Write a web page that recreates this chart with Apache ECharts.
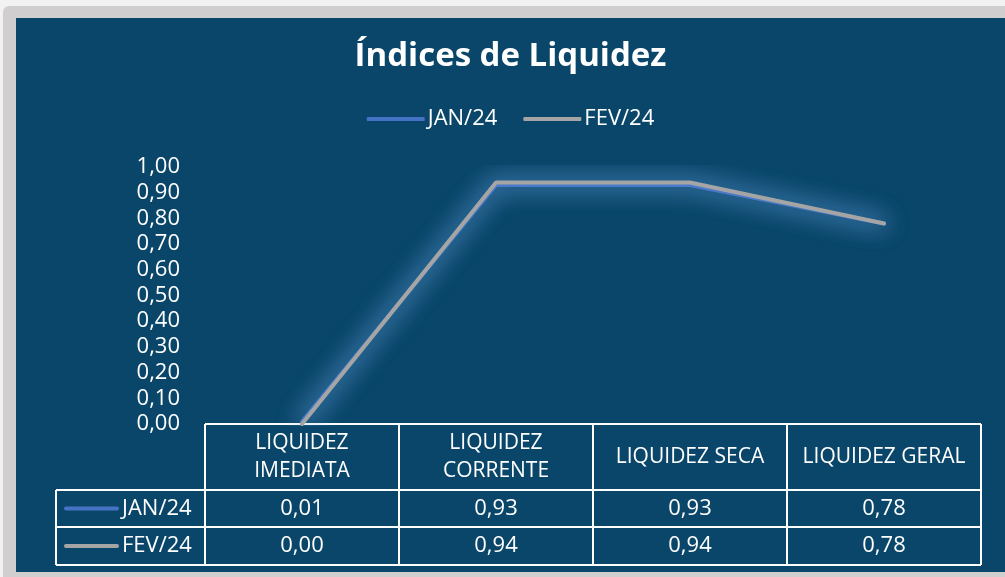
<!DOCTYPE html>
<html>
<head>
<meta charset="utf-8">
<script src="https://cdn.jsdelivr.net/npm/echarts@6/dist/echarts.min.js"></script>
<style>
  html, body { margin: 0; padding: 0; background: #f2f2f2; }
  .frame { position: absolute; left: 3px; top: 6px; width: 1010px; height: 580px; background: #d0cece; border-radius: 6px; }
  #chart { position: absolute; left: 16px; top: 18px; width: 989px; height: 554px; }
</style>
</head>
<body>
<div class="frame"></div>
<div id="chart"></div>
<script>
// dados do gráfico
const categories = ['LIQUIDEZ\nIMEDIATA', 'LIQUIDEZ\nCORRENTE', 'LIQUIDEZ SECA', 'LIQUIDEZ GERAL'];
const seriesNames = ['JAN/24', 'FEV/24'];
const jan24 = [0.01, 0.93, 0.93, 0.78];
const fev24 = [0.00, 0.94, 0.94, 0.78];
const yTicks = [0, 0.1, 0.2, 0.3, 0.4, 0.5, 0.6, 0.7, 0.8, 0.9, 1.0];

const FONT = '"Open Sans", sans-serif';
const BG = '#0a4669';
const COLORS = ['#4472c4', '#a5a5a5'];
const fmt = v => v.toFixed(2).replace('.', ',');

const chart = echarts.init(document.getElementById('chart'));

const GRID = { left: 189, right: 24, top: 149, bottom: 148 };

const option = {
  backgroundColor: BG,
  animation: false,
  title: {
    text: 'Índices de Liquidez',
    left: 'center',
    top: 17,
    textStyle: { color: '#fff', fontSize: 33, fontWeight: 'bold', fontFamily: FONT }
  },
  legend: {
    top: 85,
    left: 'center',
    itemWidth: 58,
    itemHeight: 4,
    itemGap: 26,
    icon: 'roundRect',
    textStyle: { color: '#fff', fontSize: 22, fontFamily: FONT, padding: [0, 0, 0, -2] },
    data: seriesNames
  },
  grid: GRID,
  xAxis: {
    type: 'category',
    data: categories,
    boundaryGap: true,
    axisLine: { show: false },
    axisTick: { show: false },
    axisLabel: {
      color: '#fff',
      fontSize: 21,
      fontFamily: FONT,
      lineHeight: 28,
      margin: 33,
      verticalAlign: 'middle',
      align: 'center',
      interval: 0
    }
  },
  yAxis: {
    type: 'value',
    min: yTicks[0],
    max: yTicks[yTicks.length - 1],
    interval: 0.1,
    axisLine: { show: false },
    axisTick: { show: false },
    splitLine: { show: false },
    axisLabel: {
      color: '#fff',
      fontSize: 22,
      fontFamily: FONT,
      margin: 25,
      formatter: v => fmt(v)
    }
  },
  series: [jan24, fev24].map((d, i) => ({
    name: seriesNames[i],
    type: 'line',
    data: d,
    symbol: 'none',
    color: COLORS[i],
    lineStyle: {
      width: 4,
      color: COLORS[i],
      cap: 'round',
      shadowColor: 'rgba(115,175,240,1)',
      shadowBlur: 24
    },
    z: 2 + i
  }))
};
chart.setOption(option);

// tabela de dados
function buildTable() {
  const W = chart.getWidth();
  const H = chart.getHeight();
  const gridLeft = GRID.left;
  const gridRight = W - GRID.right;
  const top = H - GRID.bottom;
  const headerH = 66;
  const rowH = [37, 38];
  const leftCol = 40;
  const centers = categories.map((c, i) => chart.convertToPixel({ xAxisIndex: 0 }, i));
  const band = centers[1] - centers[0];
  const edges = [centers[0] - band / 2].concat(centers.map(c => c + band / 2));
  const rowY = [top + headerH, top + headerH + rowH[0], top + headerH + rowH[0] + rowH[1]];
  const lineStyle = { stroke: '#fff', lineWidth: 2 };
  const els = [];

  // linhas horizontais
  els.push({ type: 'line', shape: { x1: gridLeft, y1: top, x2: gridRight, y2: top }, style: lineStyle });
  rowY.forEach(y => {
    els.push({ type: 'line', shape: { x1: leftCol, y1: y, x2: gridRight, y2: y }, style: lineStyle });
  });
  // linhas verticais
  els.push({ type: 'line', shape: { x1: leftCol, y1: rowY[0], x2: leftCol, y2: rowY[2] }, style: lineStyle });
  edges.forEach(x => {
    els.push({ type: 'line', shape: { x1: x, y1: top, x2: x, y2: rowY[2] }, style: lineStyle });
  });

  [jan24, fev24].forEach((d, r) => {
    const cy = (rowY[r] + rowY[r + 1]) / 2;
    // chave da legenda
    els.push({ type: 'rect', shape: { x: leftCol + 8, y: cy - 2, width: 55, height: 4, r: 2 }, style: { fill: COLORS[r] } });
    els.push({
      type: 'text',
      style: { x: leftCol + 66, y: cy, text: seriesNames[r], fill: '#fff', font: '22px ' + FONT, verticalAlign: 'middle', align: 'left' }
    });
    d.forEach((v, i) => {
      els.push({
        type: 'text',
        style: { x: centers[i], y: cy, text: fmt(v), fill: '#fff', font: '22px ' + FONT, verticalAlign: 'middle', align: 'center' }
      });
    });
  });

  chart.setOption({ graphic: { elements: els } });
}
buildTable();
</script>
</body>
</html>
